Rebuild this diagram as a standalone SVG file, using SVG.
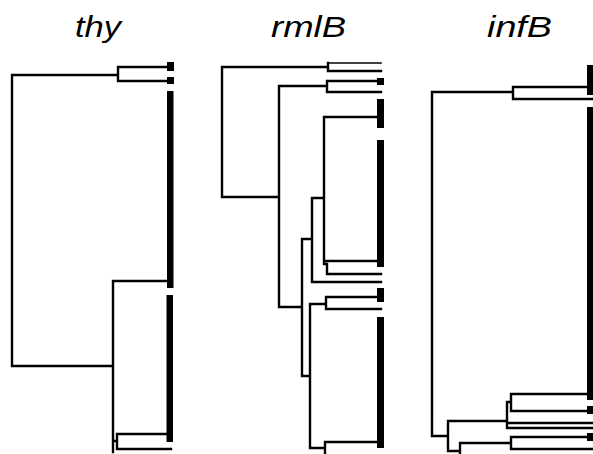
<svg xmlns="http://www.w3.org/2000/svg" width="593" height="454" viewBox="0 0 593 454">
<style>
.br{fill:none;stroke:#000;stroke-width:2.4;stroke-linecap:square}
.thin{stroke-width:1.6}
.bar{fill:#000}
.ttl{font-family:"Liberation Sans",Arial,sans-serif;font-style:italic;font-size:29px;fill:#000}
</style>
<rect width="593" height="454" fill="#fff"/>
<g id="title-thy"><text class="ttl" x="75" y="37" textLength="46" lengthAdjust="spacingAndGlyphs">thy</text></g>
<g id="title-rmlB"><text class="ttl" x="271" y="37" textLength="75" lengthAdjust="spacingAndGlyphs">rmlB</text></g>
<g id="title-infB"><text class="ttl" x="487" y="37" textLength="65" lengthAdjust="spacingAndGlyphs">infB</text></g>
<g id="connectors">
<g id="tree-thy">
<path class="br" d="M12,75 V366 M12,75 H118 M118,67 V81 M118,67 H168 M118,81 H168 M12,366 H113 M113,281 V452 M113,281 H168 M113,441 H117 M117,434 V449 M117,434 H168 M117,449 H171"/>
</g>
<g id="tree-rmlB">
<path class="br" d="M222,67 V197 M222,67 H328 M328,63 V71 M328,71 H381 M222,197 H279 M279,86 V307 M279,86 H327 M327,81 V92 M327,81 H378 M327,92 H381 M279,307 H302 M302,239 V376 M302,239 H312 M312,198 V282 M312,282 H381 M312,198 H324 M324,117 V264 H327 V274 H381 M324,117 H378 M324,261 H378 M302,376 H310 M310,304 V448 M310,304 H326 M326,297 V309 M326,297 H378 M326,309 H381 M310,448 H325 M325,442 V454 M325,442 H378"/>
<path class="br thin" d="M328,63 H381"/>
</g>
<g id="tree-infB">
<path class="br" d="M432,92 V436 M432,92 H513 M513,87 V99 M513,87 H588 M513,99 H592 M432,436 H448 M448,421 V451 M448,421 H507 M507,402 V428 M507,402 H511 M511,394 V411 M511,394 H588 M511,411 H592 M507,423 H592 M507,428 H592 M448,451 H460 M460,443 V454 M460,443 H511 M511,437 V449 M511,437 H588 M511,449 H592"/>
</g>
</g>
<g id="leaves-thy">
<rect class="bar" x="167" y="62" width="7" height="9"/>
<rect class="bar" x="167" y="77" width="7" height="7"/>
<rect class="bar" x="167" y="91" width="6.5" height="197"/>
<rect class="bar" x="166.5" y="295" width="6.5" height="147"/>
</g>
<g id="leaves-rmlB">
<rect class="bar" x="377" y="78" width="7" height="7"/>
<rect class="bar" x="377" y="99" width="7" height="29"/>
<rect class="bar" x="377" y="140" width="7" height="127"/>
<rect class="bar" x="377" y="288" width="7" height="14"/>
<rect class="bar" x="377" y="317" width="7" height="131"/>
</g>
<g id="leaves-infB">
<rect class="bar" x="587" y="65" width="6" height="30"/>
<rect class="bar" x="587" y="107" width="6" height="293"/>
<rect class="bar" x="587" y="406" width="6" height="8"/>
<rect class="bar" x="587" y="433" width="6" height="8"/>
</g>
</svg>
